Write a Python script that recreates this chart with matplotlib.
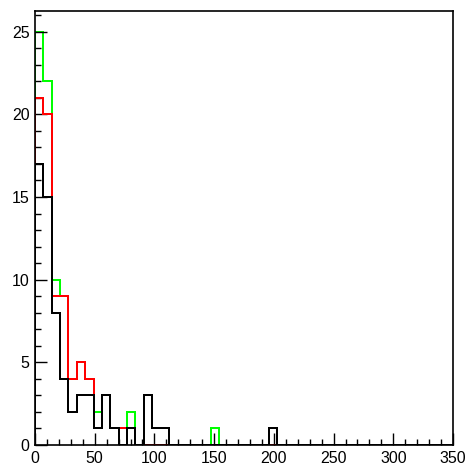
import numpy as np
import matplotlib
matplotlib.use("Agg")
import matplotlib.pyplot as plt
from matplotlib.ticker import MultipleLocator

# bin edges: 50 bins of width 7 from 0 to 350
bin_lo, bin_hi, n_bins = 0, 350, 50

# counts per bin
green = [25, 22, 10, 9, 4, 5, 4, 2, 3, 1,
         1, 2, 0, 0, 0, 0, 0, 0, 0, 0,
         0, 1, 0, 0, 0, 0, 0, 0, 0, 0,
         0, 0, 0, 0, 0, 0, 0, 0, 0, 0,
         0, 0, 0, 0, 0, 0, 0, 0, 0, 0]
red = [21, 20, 9, 9, 4, 5, 4, 1, 3, 1,
       1, 1, 0, 0, 0, 0, 0, 0, 0, 0,
       0, 0, 0, 0, 0, 0, 0, 0, 0, 0,
       0, 0, 0, 0, 0, 0, 0, 0, 0, 0,
       0, 0, 0, 0, 0, 0, 0, 0, 0, 0]
black = [17, 15, 8, 4, 2, 3, 3, 1, 3, 1,
         0, 1, 0, 3, 1, 1, 0, 0, 0, 0,
         0, 0, 0, 0, 0, 0, 0, 0, 1, 0,
         0, 0, 0, 0, 0, 0, 0, 0, 0, 0,
         0, 0, 0, 0, 0, 0, 0, 0, 0, 0]

edges = np.linspace(bin_lo, bin_hi, n_bins + 1)

plt.rcParams["font.family"] = ["Liberation Sans", "DejaVu Sans"]

fig = plt.figure(figsize=(4.65, 4.66), dpi=100)
ax = fig.add_axes([35 / 465, 21 / 466, 418 / 465, 434 / 466])

# 2 px wide lines, snapped, so overlapping histograms hide each other fully
lw = 1.44
ax.stairs(green, edges, color="#00ff00", lw=lw, zorder=1, snap=True)
ax.stairs(red, edges, color="#ff0000", lw=lw, zorder=2, snap=True)
ax.stairs(black, edges, color="black", lw=lw, zorder=3, snap=True)

ax.set_xlim(bin_lo, bin_hi)
ax.set_ylim(0, 1.05 * max(green))

ax.xaxis.set_major_locator(MultipleLocator(50))
ax.xaxis.set_minor_locator(MultipleLocator(10))
ax.yaxis.set_major_locator(MultipleLocator(5))
ax.yaxis.set_minor_locator(MultipleLocator(1))

ax.tick_params(which="both", direction="in", top=False, right=False, width=1.0, color="black")
ax.tick_params(which="major", length=8.6)
ax.tick_params(which="minor", length=4.3)
ax.tick_params(axis="x", which="major", pad=4, labelsize=11.5)
ax.tick_params(axis="y", which="major", pad=4, labelsize=11.5)

for s in ax.spines.values():
    s.set_linewidth(1.2)
    s.set_color("black")
    s.set_zorder(5)

fig.savefig("out.png", dpi=100)
